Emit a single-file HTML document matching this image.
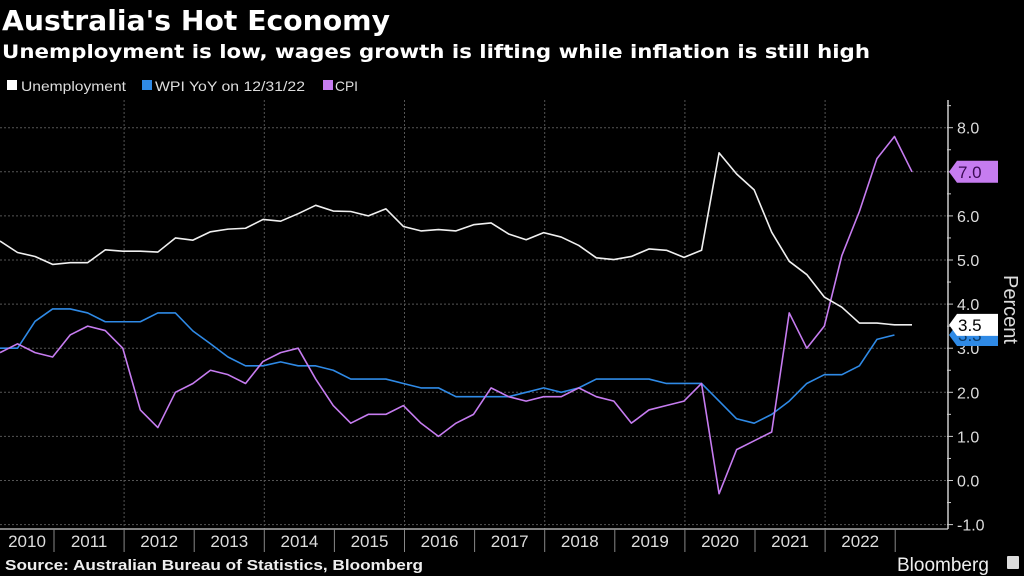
<!DOCTYPE html>
<html><head><meta charset="utf-8"><style>
body{margin:0;background:#000;width:1024px;height:576px;overflow:hidden;font-family:"Liberation Sans",sans-serif;color:#fff}
svg{position:absolute;left:0;top:0}
</style></head><body>
<svg width="1024" height="576">
<text x="2" y="30" font-size="28" font-weight="bold" fill="#fff" textLength="388" lengthAdjust="spacingAndGlyphs" style="font-family:'DejaVu Sans',sans-serif">Australia's Hot Economy</text>
<text x="2" y="58" font-size="19" font-weight="bold" fill="#fff" textLength="868" lengthAdjust="spacingAndGlyphs" style="font-family:'DejaVu Sans',sans-serif">Unemployment is low, wages growth is lifting while inflation is still high</text>
<g font-size="14" fill="#ddd">
<rect x="7" y="80" width="10" height="10" fill="#fff"/>
<text x="21" y="91" textLength="105" lengthAdjust="spacingAndGlyphs">Unemployment</text>
<rect x="142" y="80" width="10" height="10" fill="#2f8ae6"/>
<text x="155" y="91" textLength="150" lengthAdjust="spacingAndGlyphs">WPI YoY on 12/31/22</text>
<rect x="323" y="80" width="10" height="10" fill="#c67cf0"/>
<text x="335" y="91" textLength="23" lengthAdjust="spacingAndGlyphs">CPI</text>
</g>
<g id="grid"></g>
<g id="series"></g>
<g id="axes"></g>
<text x="5" y="570" font-size="14.5" font-weight="bold" fill="#eee" textLength="418" lengthAdjust="spacingAndGlyphs">Source: Australian Bureau of Statistics, Bloomberg</text>
<text x="897" y="571" font-size="19" fill="#eee">Bloomberg</text>
<rect x="1007" y="556" width="12" height="13" fill="#ddd" rx="1"/>
</svg>
<script>
const unemployment=[5.43,5.17,5.08,4.9,4.94,4.94,5.23,5.2,5.2,5.18,5.5,5.45,5.64,5.7,5.72,5.92,5.88,6.05,6.24,6.11,6.1,6.0,6.16,5.76,5.66,5.69,5.66,5.8,5.84,5.59,5.46,5.62,5.52,5.33,5.05,5.01,5.08,5.25,5.22,5.06,5.22,7.43,6.95,6.59,5.63,4.97,4.67,4.16,3.93,3.57,3.57,3.53,3.53];
const wpi=[3.0,3.0,3.61,3.89,3.89,3.8,3.6,3.6,3.6,3.8,3.8,3.39,3.1,2.8,2.6,2.6,2.69,2.6,2.6,2.5,2.3,2.3,2.3,2.2,2.1,2.1,1.9,1.9,1.9,1.9,2.0,2.1,2.0,2.1,2.3,2.3,2.3,2.3,2.2,2.2,2.2,1.8,1.4,1.3,1.5,1.8,2.2,2.4,2.4,2.6,3.2,3.3];
const cpi=[2.9,3.1,2.9,2.8,3.3,3.5,3.4,3.0,1.6,1.2,2.0,2.2,2.5,2.4,2.2,2.7,2.9,3.0,2.3,1.7,1.3,1.5,1.5,1.7,1.3,1.0,1.3,1.5,2.1,1.9,1.8,1.9,1.9,2.1,1.9,1.8,1.3,1.6,1.7,1.8,2.2,-0.3,0.7,0.9,1.1,3.8,3.0,3.5,5.1,6.1,7.3,7.8,7.0];
const years=["2010","2011","2012","2013","2014","2015","2016","2017","2018","2019","2020","2021","2022"];
const yTicks=[-1,0,1,2,3,4,5,6,7,8];
const NS="http://www.w3.org/2000/svg";
const nPts=53, xEnd=912;
function X(i){return i*xEnd/(nPts-1);}
function Y(v){return 480.5-v*44.1;}
function yearX(k){return 54+k*70.1;}
function mk(tag,attrs,parent){const e=document.createElementNS(NS,tag);for(const k in attrs)e.setAttribute(k,attrs[k]);parent.appendChild(e);return e;}
const grid=document.getElementById('grid'),axes=document.getElementById('axes'),ser=document.getElementById('series');
yTicks.forEach(v=>{
 const l=mk('line',{x1:0,x2:947,y1:Y(v),y2:Y(v),stroke:'#555','stroke-dasharray':'2,2','stroke-width':1},grid);
 
 
 const t=mk('line',{x1:947,x2:953,y1:Y(v),y2:Y(v),stroke:'#ccc'},axes);
 
 
 const m=mk('line',{x1:947,x2:951,y1:Y(v+0.5),y2:Y(v+0.5),stroke:'#ccc'},axes);
 
 
 const tx=mk('text',{x:957,y:Y(v)+6,'font-size':16,fill:'#ddd'},axes);
 tx.textContent=v.toFixed(1);
 
 
});
for(let k=1;k<years.length;k+=2){
 const g=mk('line',{x1:yearX(k),x2:yearX(k),y1:100,y2:529,stroke:'#555','stroke-dasharray':'2,2'},grid);
 
 
}
const ax=mk('line',{x1:948,x2:948,y1:100,y2:529,stroke:'#ccc','stroke-width':1.5},axes);


const bx=mk('line',{x1:0,x2:948,y1:529,y2:529,stroke:'#ccc','stroke-width':1.2},axes);


years.forEach((y,k)=>{
 const b=yearX(k);
 const d=mk('line',{x1:b,x2:b,y1:529,y2:552,stroke:'#888'},axes);
 
 
 const c=k===0?27:b-35;
 const t=mk('text',{x:c,y:547,'font-size':17,fill:'#ddd','text-anchor':'middle'},axes);
 t.textContent=y;
 
 
});
function line(arr,color,name){
 const p=mk('polyline',{points:arr.map((v,i)=>X(i)+','+Y(v)).join(' '),fill:'none',stroke:color,'stroke-width':1.6,'stroke-linejoin':'round'},ser);
 
 
}
line(wpi,'#2f8ae6','wpi-line');
line(cpi,'#c67cf0','cpi-line');
line(unemployment,'#f0f0f0','unemployment-line');
function tag(v,color,txtColor,name){
 const y=Y(v);
 const p=mk('polygon',{points:`949,${y} 957,${y-11} 998,${y-11} 998,${y+11} 957,${y+11}`,fill:color},axes);
 
 
 const t=mk('text',{x:958,y:y+6,'font-size':17,fill:txtColor},axes);
 t.textContent=v.toFixed(1);
 
 
}
tag(wpi[wpi.length-1],'#2f8ae6','#0a3a66','wpi-last-value-tag');
tag(unemployment[unemployment.length-1],'#fff','#000','unemployment-last-value-tag');
tag(cpi[cpi.length-1],'#c67cf0','#3a0a55','cpi-last-value-tag');
const yt=mk('text',{x:0,y:0,'font-size':20,fill:'#ddd',transform:'translate(1004,275) rotate(90)'},axes);
yt.textContent='Percent';


</script>
</body></html>
